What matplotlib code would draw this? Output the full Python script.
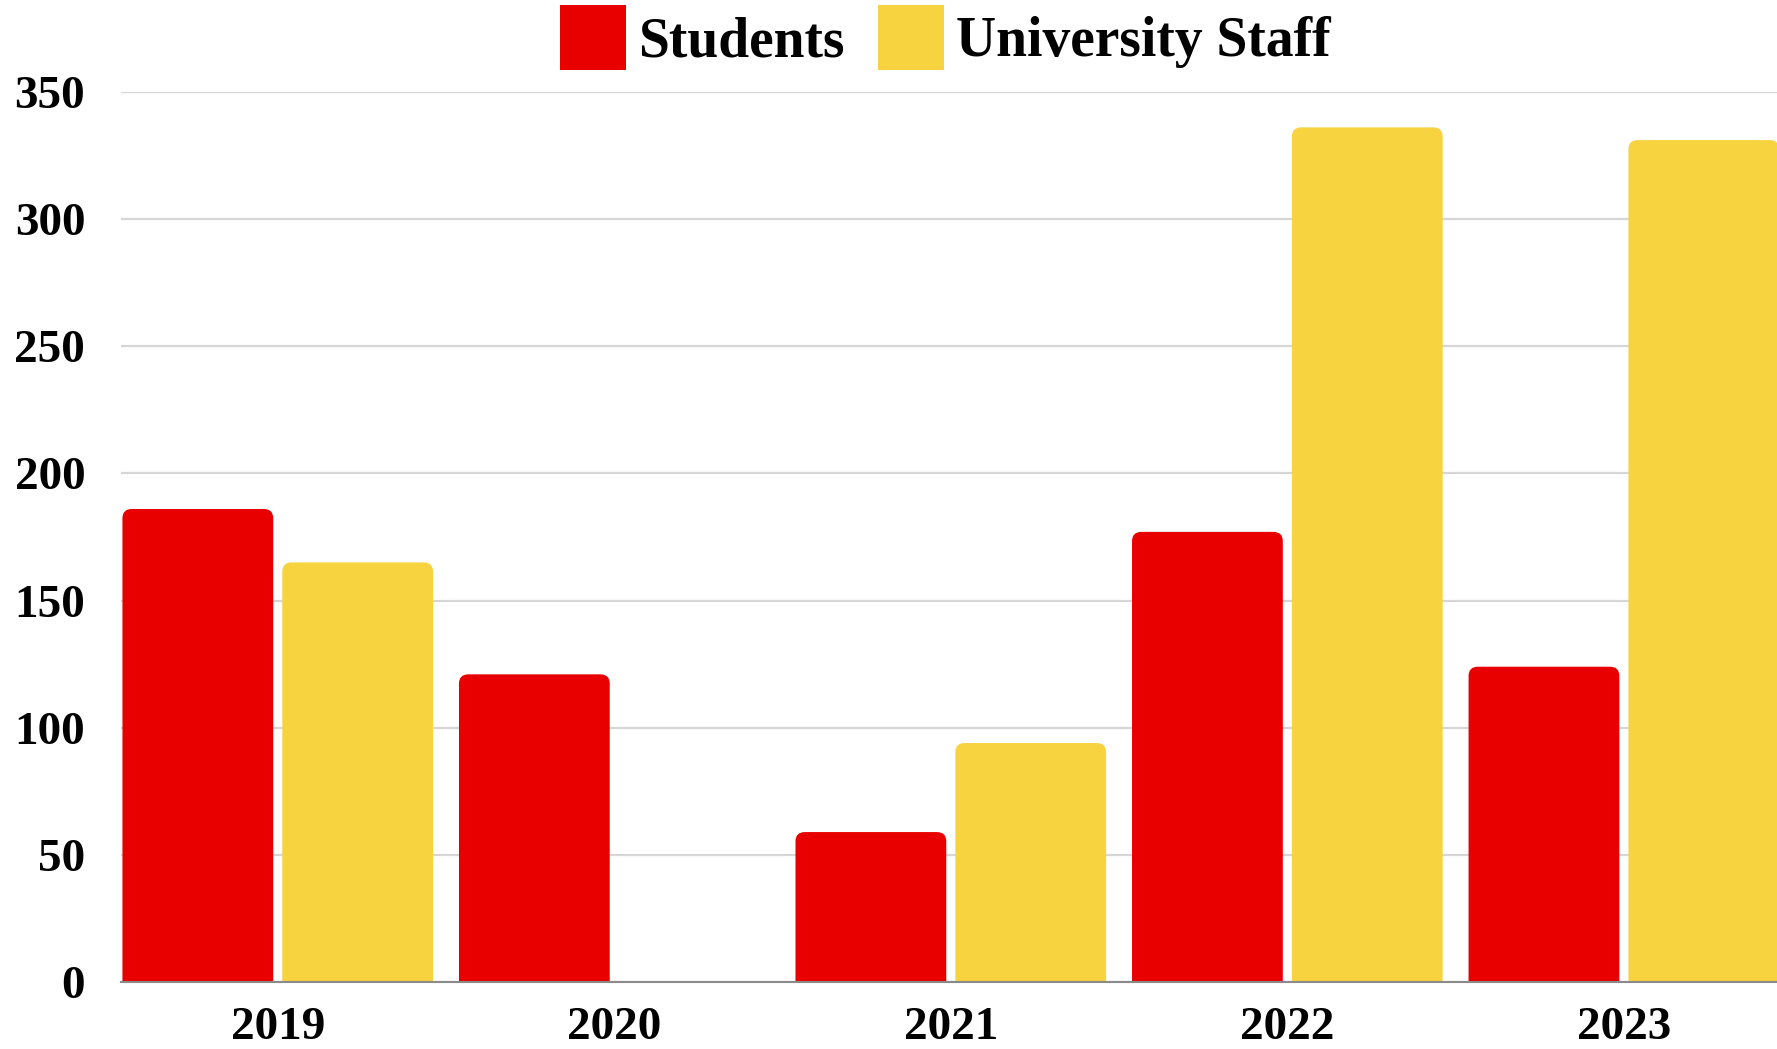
import matplotlib
matplotlib.use("Agg")
import matplotlib.pyplot as plt
import numpy as np
from matplotlib.patches import FancyBboxPatch, Patch

years = ["2019", "2020", "2021", "2022", "2023"]
students = [186, 121, 59, 177, 124]
staff = [165, 0, 94, 336, 331]
series_names = ["Students", "University Staff"]
colors = ["#E80000", "#F7D33F"]
yticks = [0, 50, 100, 150, 200, 250, 300, 350]

W, H = 1777, 1049
fig = plt.figure(figsize=(W / 100, H / 100), dpi=100)
ax = fig.add_axes([107 / 1568, 59 / 926, 1 - 107 / 1568, (867 - 81) / 926])

x = np.arange(len(years))
bw = 0.448
gap = 0.027
off = (bw + gap) / 2

def rounded_bars(bars, color):
    # replace plain bars by top-rounded versions of the same geometry
    for b in bars:
        h = b.get_height()
        if h <= 0:
            b.set_visible(False)
            continue
        bx, by, w = b.get_x(), b.get_y(), b.get_width()
        r = 0.028
        aspect = 3.6 / r
        p = FancyBboxPatch((bx, by - 10), w, h + 10,
                           boxstyle=f"round,pad=0,rounding_size={r}",
                           mutation_aspect=aspect, facecolor=color,
                           edgecolor="none", zorder=3, clip_on=True)
        ax.add_patch(p)
        b.set_visible(False)

b1 = ax.bar(x - off, students, width=bw, color=colors[0], label=series_names[0], zorder=3)
b2 = ax.bar(x + off, staff, width=bw, color=colors[1], label=series_names[1], zorder=3)
rounded_bars(b1, colors[0])
rounded_bars(b2, colors[1])

ax.set_xlim(-0.465, 4.455)
ax.set_ylim(0, 350)
ax.set_yticks(yticks)
ax.set_xticks(x)
ax.set_xticklabels(years)

fam = ["Liberation Serif", "DejaVu Serif"]
for lab in ax.get_yticklabels() + ax.get_xticklabels():
    lab.set_fontfamily(fam)
    lab.set_fontweight("bold")
    lab.set_fontsize(34)

ax.tick_params(axis="y", length=0, pad=26)
ax.tick_params(axis="x", length=0, pad=18)
ax.grid(axis="y", color="#d6d6d6", linewidth=1.6, zorder=0)
ax.set_axisbelow(True)
for s in ["top", "right", "left"]:
    ax.spines[s].set_visible(False)
ax.spines["bottom"].set_color("#8a8a8a")
ax.spines["bottom"].set_linewidth(1.5)
ax.spines["bottom"].set_zorder(4)

handles = [Patch(facecolor=colors[0]), Patch(facecolor=colors[1])]
fig.legend(handles, series_names, loc="center", bbox_to_anchor=(0.532, 0.964),
           ncol=2, frameon=False,
           prop=dict(family=fam, weight="bold", size=40),
           handlelength=1.19, handleheight=1.42, handletextpad=0.22,
           columnspacing=0.6, borderaxespad=0, borderpad=0)

fig.savefig("out.png", dpi=100)
